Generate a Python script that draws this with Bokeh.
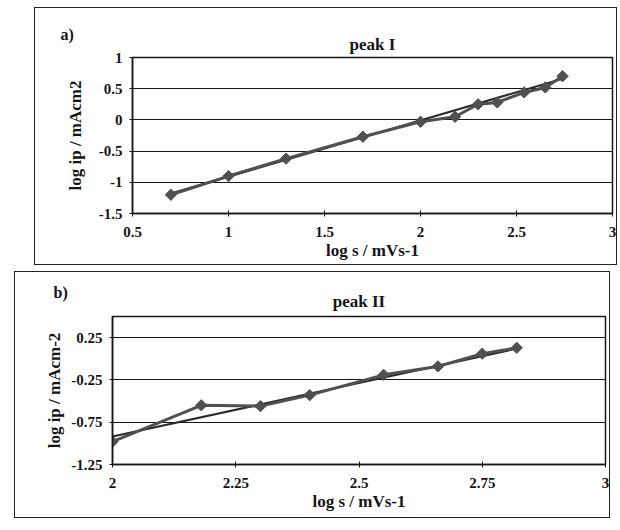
import math
from bokeh.plotting import figure
from bokeh.layouts import column
from bokeh.models import Range1d, FixedTicker, CustomJSTickFormatter, Title
from bokeh.embed import file_html
from bokeh.resources import INLINE

# ---- data: peak I ----
a_x = [0.70, 1.00, 1.30, 1.70, 2.00, 2.18, 2.30, 2.40, 2.54, 2.65, 2.74]
a_y = [-1.20, -0.90, -0.62, -0.27, -0.03, 0.05, 0.25, 0.28, 0.44, 0.52, 0.70]
a_fit_x = [0.70, 2.74]
a_fit_y = [-1.18, 0.66]
a_xticks = [0.5, 1, 1.5, 2, 2.5, 3]
a_yticks = [-1.5, -1, -0.5, 0, 0.5, 1]

# ---- data: peak II ----
b_x = [2.00, 2.18, 2.30, 2.40, 2.55, 2.66, 2.75, 2.82]
b_y = [-0.98, -0.55, -0.56, -0.43, -0.19, -0.09, 0.06, 0.13]
b_fit_x = [2.00, 2.82]
b_fit_y = [-0.92, 0.12]
b_xticks = [2, 2.25, 2.5, 2.75, 3]
b_yticks = [-1.25, -0.75, -0.25, 0.25]

SERIF = "Liberation Serif"
INK = "#151515"
LINE = "#505050"
fmt = CustomJSTickFormatter(code="return String(Math.round(tick*100)/100)")


def make(xs, ys, fx, fy, xt, yt, xr, yr, title, ylab, tag, w, h, margin,
         bl, bt, br, bb, tag_offset, title_standoff, tag_standoff, ylab_standoff):
    p = figure(width=w, height=h, output_backend="svg", toolbar_location=None,
               x_range=Range1d(*xr), y_range=Range1d(*yr),
               min_border_left=bl, min_border_top=bt, min_border_right=br, min_border_bottom=bb)
    p.margin = margin
    p.styles = {"border": "1px solid #222"}
    t = Title(text=title, align="center", text_font=SERIF, text_font_size="17px",
              text_font_style="bold", text_color=INK, standoff=title_standoff)
    p.add_layout(t, "above")
    tg = Title(text=tag, align="left", offset=tag_offset, text_font=SERIF,
               text_font_size="16px", text_font_style="bold", text_color=INK,
               standoff=tag_standoff)
    p.add_layout(tg, "above")
    p.title.visible = False
    p.outline_line_color = INK
    p.outline_line_width = 1.5
    p.xgrid.visible = False
    p.ygrid.grid_line_color = INK
    p.ygrid.grid_line_width = 1
    p.xaxis.ticker = FixedTicker(ticks=xt)
    p.yaxis.ticker = FixedTicker(ticks=yt)
    for ax in (p.xaxis[0], p.yaxis[0]):
        ax.formatter = fmt
        ax.major_label_text_font = SERIF
        ax.major_label_text_font_style = "bold"
        ax.major_label_text_font_size = "15px"
        ax.major_label_text_color = INK
        ax.axis_label_text_font = SERIF
        ax.axis_label_text_font_style = "bold"
        ax.axis_label_text_font_size = "17px"
        ax.axis_label_text_color = INK
        ax.axis_line_color = INK
        ax.axis_line_width = 1.5
        ax.major_tick_line_color = INK
        ax.major_tick_in = 3
        ax.major_tick_out = 3
        ax.minor_tick_line_color = None
    p.xaxis.axis_label = "log s / mVs-1"
    p.yaxis.axis_label = ylab
    p.xaxis.major_label_standoff = 10
    p.xaxis.axis_label_standoff = 1
    p.yaxis.major_label_standoff = 7
    p.yaxis.axis_label_standoff = ylab_standoff
    p.line(fx, fy, line_color="#2a2a2a", line_width=2)
    p.line(xs, ys, line_color=LINE, line_width=3)
    p.scatter(xs, ys, marker="square", angle=math.pi / 4, size=8,
              fill_color=LINE, line_color=LINE)
    return p


pa = make(a_x, a_y, a_fit_x, a_fit_y, a_xticks, a_yticks, (0.5, 3), (-1.5, 1),
          "peak I", "log ip / mAcm2", "a)", 583, 258, (7, 0, 0, 34),
          97, 49, 6, 53, -72, 8, -28, 11)
pb = make(b_x, b_y, b_fit_x, b_fit_y, b_xticks, b_yticks, (2, 3), (-1.25, 0.5),
          "peak II", "log ip / mAcm-2", "b)", 596, 247, (0, 0, 0, 14),
          97, 44, 6, 55, -59, 12, -35, 4)

layout = column(pa, pb, spacing=6)
open("out.html", "w").write(file_html(layout, INLINE))
